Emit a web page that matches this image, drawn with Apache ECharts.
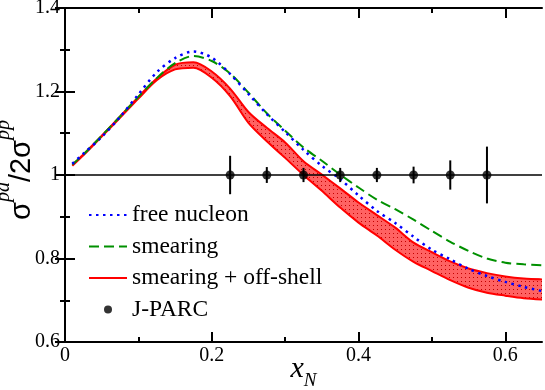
<!DOCTYPE html>
<html>
<head>
<meta charset="utf-8">
<script src="https://cdn.jsdelivr.net/npm/echarts@6/dist/echarts.min.js"></script>
<style>html,body{margin:0;padding:0;background:#fff}#c{width:545px;height:390px}</style>
</head>
<body>
<div id="c"></div>
<script>
const xs = [0.01,0.025,0.05,0.075,0.1,0.125,0.15,0.175,0.2,0.225,0.25,0.275,0.3,0.325,0.35,0.375,0.4,0.425,0.45,0.475,0.5,0.525,0.55,0.575,0.6,0.625,0.65];
const freeNucleon = [1.027,1.051,1.091,1.139,1.193,1.246,1.280,1.296,1.281,1.242,1.194,1.146,1.103,1.060,1.022,0.990,0.951,0.914,0.885,0.852,0.821,0.798,0.775,0.758,0.744,0.732,0.722];
const smearing = [1.025,1.049,1.094,1.140,1.187,1.232,1.268,1.285,1.273,1.243,1.197,1.148,1.106,1.066,1.034,1.001,0.970,0.941,0.918,0.893,0.866,0.840,0.818,0.800,0.790,0.786,0.784];
const offShellUpper = [1.024,1.049,1.094,1.140,1.187,1.231,1.264,1.270,1.248,1.207,1.151,1.113,1.078,1.033,1.001,0.968,0.934,0.904,0.874,0.838,0.815,0.793,0.776,0.765,0.757,0.752,0.750];
const offShellLower = [1.022,1.047,1.092,1.137,1.183,1.227,1.253,1.257,1.233,1.189,1.125,1.081,1.041,1.000,0.962,0.922,0.886,0.855,0.821,0.792,0.770,0.748,0.730,0.718,0.711,0.705,0.702];
const jparcX = [0.225,0.275,0.325,0.375,0.425,0.475,0.525,0.575];
const jparcY = [1,1,1,1,1,1,1,1];
const jparcErr = [0.046,0.019,0.017,0.017,0.017,0.020,0.035,0.068];
const xMajorTicks = [0,0.2,0.4,0.6];
const xMinorTicks = [0.1,0.3,0.5];

const serif = 'Liberation Serif';
const pc = document.createElement('canvas');
pc.width = 4; pc.height = 4;
const g = pc.getContext('2d');
g.fillStyle = '#ff6262'; g.fillRect(0,0,4,4);
g.fillStyle = '#c00000'; g.fillRect(1,1,1,1);

const zip = (a,b) => a.map((v,i) => [v,b[i]]);

const tickStyle = {color:'#000', width:2};
function xAx(pos, major, labels) {
  const ax = {
    type:'value', min:0, max:0.65, interval:0.2, position:pos,
    axisLine:{show:major, lineStyle:{color:'#000', width:2}},
    axisTick:{show:true, inside:true, length: major ? 10 : 5, lineStyle:tickStyle,
      customValues: major ? xMajorTicks : xMinorTicks},
    axisLabel:{show:labels, color:'#000', fontFamily:serif, fontSize:20, margin:4,
      customValues: xMajorTicks},
    splitLine:{show:false}
  };
  if (labels) {
    ax.name = '{x|x}{n|N}';
    ax.nameLocation = 'middle';
    ax.nameGap = 12;
    ax.nameMoveOverlap = false;
    ax.nameTextStyle = {rich:{
      x:{fontFamily:serif, fontStyle:'italic', fontSize:30, color:'#000', verticalAlign:'top'},
      n:{fontFamily:serif, fontStyle:'italic', fontSize:19, color:'#000', verticalAlign:'top', padding:[17,0,0,0]}
    }};
  }
  return ax;
}
function yAx(pos, labels) {
  const ax = {
    type:'value', min:0.6, max:1.4, interval:0.2, position:pos,
    axisLine:{show:true, lineStyle:{color:'#000', width:2}},
    axisTick:{show:true, inside:true, length:10, lineStyle:tickStyle},
    minorTick:{show:true, splitNumber:2, length:5, lineStyle:tickStyle},
    axisLabel:{show:labels, color:'#000', fontFamily:serif, fontSize:20, margin:5},
    splitLine:{show:false}, minorSplitLine:{show:false}
  };
  if (labels) {
    ax.name = '{s|σ}{p|pd}{s|/2σ}{p|pp}';
    ax.nameLocation = 'middle';
    ax.nameRotate = 90;
    ax.nameGap = 29;
    ax.nameMoveOverlap = false;
    ax.nameTextStyle = {padding:[0,0,0,10], rich:{
      s:{fontFamily:'Liberation Sans', fontSize:29, color:'#000', verticalAlign:'bottom', lineHeight:28},
      p:{fontFamily:serif, fontStyle:'italic', fontSize:20, color:'#000', verticalAlign:'bottom', lineHeight:20, padding:[0,0,22,0]}
    }};
  }
  return ax;
}

const chart = echarts.init(document.getElementById('c'), null, {renderer:'canvas'});
chart.setOption({
  animation:false,
  backgroundColor:'#fff',
  grid:{left:65, right:3, top:8, bottom:48, containLabel:false, outerBoundsMode:'none'},
  xAxis:[xAx('bottom',true,true), xAx('bottom',false,false), xAx('top',true,false), xAx('top',false,false)],
  yAxis:[yAx('left',true), yAx('right',false)],
  legend:{
    orient:'vertical', left:83, top:198, itemWidth:38, itemHeight:8, itemGap:7.5,
    textStyle:{fontFamily:serif, fontSize:23.5, color:'#000', lineHeight:23},
    data:[
      {name:'free nucleon', itemStyle:{opacity:0}},
      {name:'smearing', itemStyle:{opacity:0}},
      {name:'smearing + off-shell', itemStyle:{opacity:0}},
      {name:'J-PARC'}
    ]
  },
  series:[
    {name:'band fill', type:'custom', data:xs.map((x,i)=>[x,offShellLower[i],offShellUpper[i]]), z:1,
      renderItem:function(params, api){
        if (params.dataIndex !== 0) return null;
        const pts = [];
        for (let i = 0; i < xs.length; i++) pts.push(api.coord([xs[i], offShellUpper[i]]));
        for (let i = xs.length - 1; i >= 0; i--) pts.push(api.coord([xs[i], offShellLower[i]]));
        const mn = [Infinity, Infinity], mx = [-Infinity, -Infinity];
        pts.forEach(p => { mn[0]=Math.min(mn[0],p[0]); mn[1]=Math.min(mn[1],p[1]); mx[0]=Math.max(mx[0],p[0]); mx[1]=Math.max(mx[1],p[1]); });
        return {type:'polygon', shape:{points:pts, smooth:0.3, smoothConstraint:[mn, mx]},
          style:{fill:{image:pc, repeat:'repeat'}, stroke:null}};
      }},
    {name:'smearing + off-shell', type:'line', data:zip(xs,offShellLower),
      symbol:'none', smooth:0.3, lineStyle:{color:'#ff0000', width:2}, itemStyle:{color:'#ff0000'}, z:2},
    {name:'smearing + off-shell', type:'line', data:zip(xs,offShellUpper),
      symbol:'none', smooth:0.3, lineStyle:{color:'#ff0000', width:2}, itemStyle:{color:'#ff0000'}, z:2},
    {name:'smearing', type:'line', data:zip(xs,smearing), symbol:'none', smooth:0.3,
      lineStyle:{color:'#009000', width:2, type:[10,5]}, itemStyle:{color:'#009000'}, z:3},
    {name:'free nucleon', type:'line', data:zip(xs,freeNucleon), symbol:'none', smooth:0.3,
      lineStyle:{color:'#0000ff', width:2.5, type:[2.5,4.5]}, itemStyle:{color:'#0000ff'}, z:4},
    {name:'J-PARC err', type:'custom', data:jparcX.map((x,i)=>[x,jparcY[i],jparcErr[i]]), z:5,
      renderItem:function(params, api){
        const x = api.value(0), y = api.value(1), e = api.value(2);
        const a = api.coord([x, y+e]), b = api.coord([x, y-e]);
        return {type:'line', shape:{x1:a[0], y1:a[1], x2:b[0], y2:b[1]}, style:{stroke:'#000', lineWidth:2}};
      }},
    {name:'J-PARC', type:'scatter', data:zip(jparcX,jparcY), symbol:'circle', symbolSize:9,
      itemStyle:{color:'#000'}, z:6,
      markLine:{silent:true, symbol:'none', label:{show:false},
        lineStyle:{color:'#000', type:'solid', width:1.5}, data:[{yAxis:1}]}}
  ]
});
</script>
</body>
</html>
